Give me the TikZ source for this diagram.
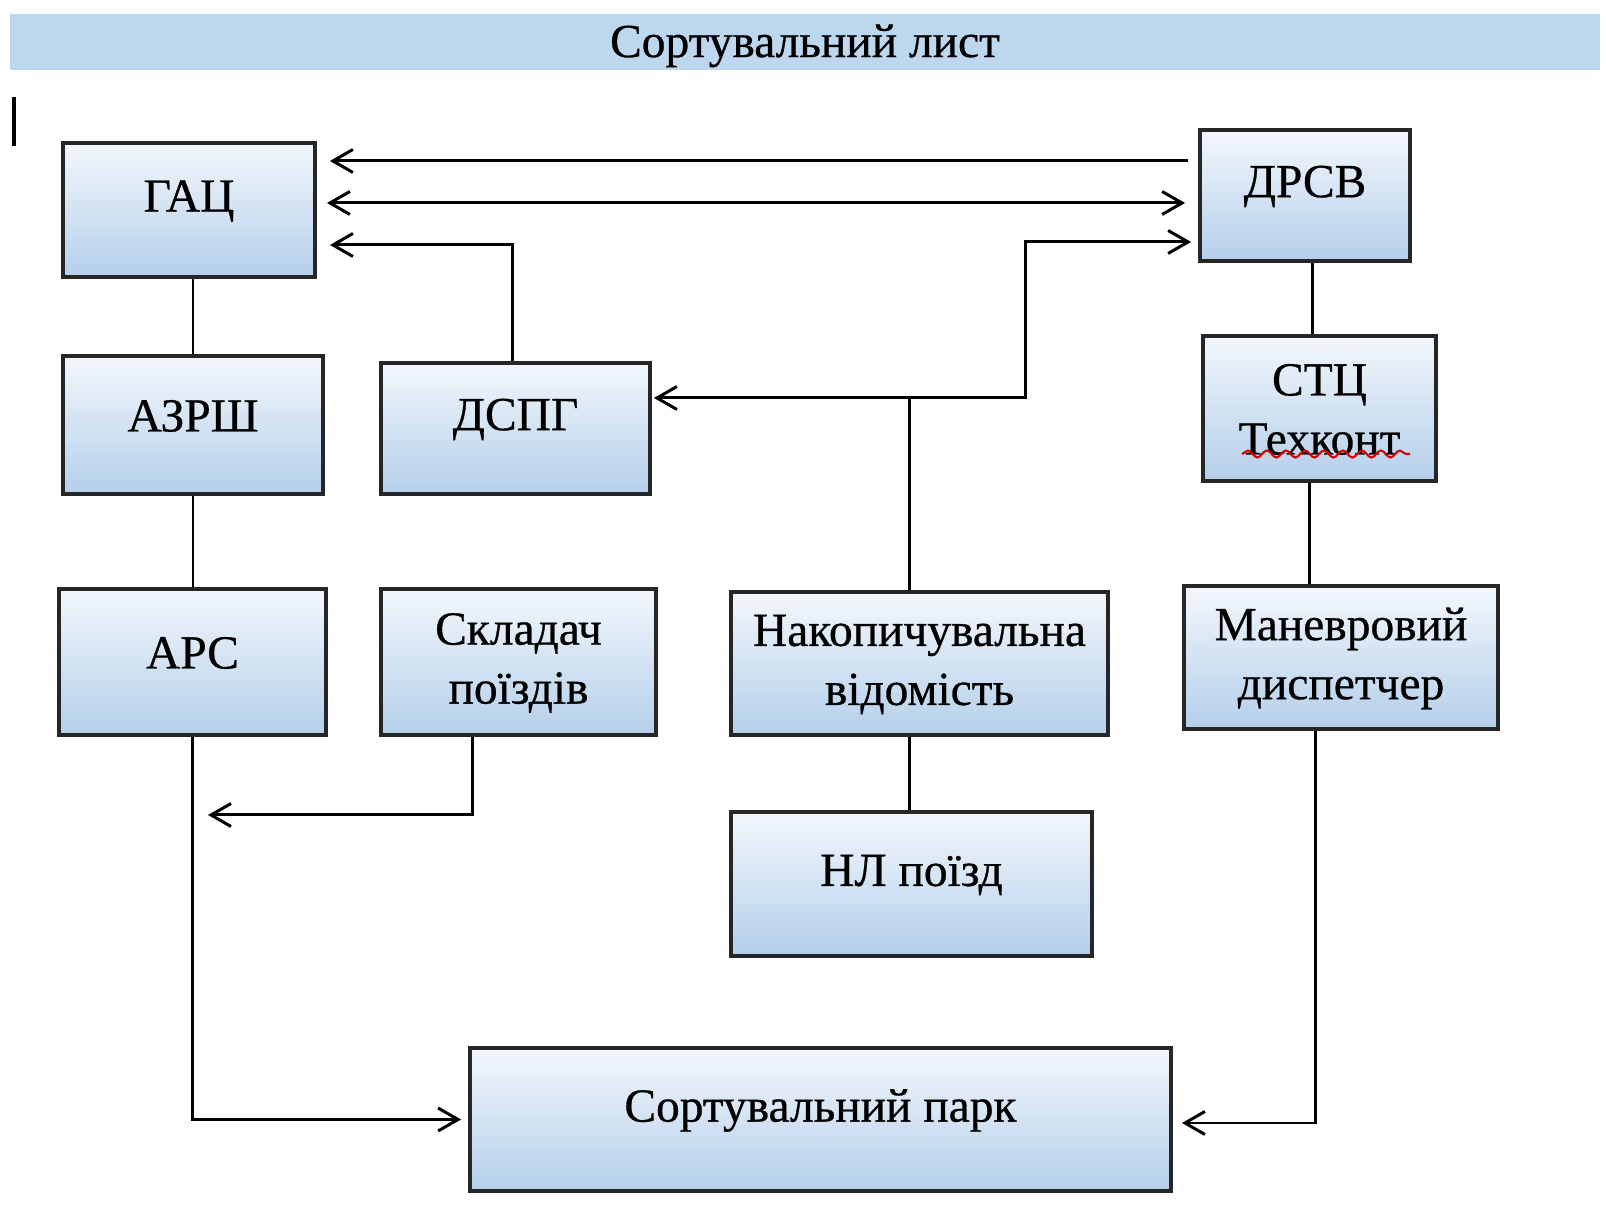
\documentclass[tikz,border=0pt]{standalone}
\usepackage{fontspec}
\setmainfont{Liberation Serif}[FakeBold=0.6]
\usepackage{tikz}
\usetikzlibrary{shapes,arrows,positioning,calc,decorations.pathmorphing,arrows.meta}

\definecolor{boxtop}{RGB}{243,247,252}
\definecolor{boxbot}{RGB}{180,207,234}
\definecolor{barblue}{RGB}{189,215,238}

\tikzset{
  blk/.style={draw=black!85, line width=1.1pt, top color=boxtop, bottom color=boxbot, inner sep=0pt},
  txt/.style={font=\fontsize{13.5}{16.8}\selectfont, align=center, yshift=0.9mm},
  txtii/.style={font=\fontsize{13.5}{16.8}\selectfont, align=center, yshift=-0.1mm},
  arr/.style={-{Straight Barb[length=2mm,width=2.3mm]}, line width=0.85pt, shorten >=1.2mm},
  dbl/.style={{Straight Barb[length=2mm,width=2.3mm]}-{Straight Barb[length=2mm,width=2.3mm]}, line width=0.85pt, shorten >=1mm, shorten <=1.3mm},
  conn/.style={line width=0.85pt}
}

\begin{document}
\begin{tikzpicture}
    \fill[white] (0,0) rectangle (16.06,12.16);
    \useasboundingbox (0,0) rectangle (16.06,12.16);

    % Title bar
    \node[fill=barblue, minimum width=15.9cm, minimum height=0.56cm, inner sep=0pt,
          label={[font=\fontsize{13.5}{16.8}\selectfont, yshift=-0.4mm]center:Сортувальний лист}] (title) at (8.05,11.74) {};
    \draw[line width=1pt] (0.14,11.19) -- (0.14,10.70);

    % Blocks
    \node[blk, minimum width=2.52cm, minimum height=1.34cm, label={[txt]center:ГАЦ}] (gac) at (1.89,10.06) {};
    \node[blk, minimum width=2.10cm, minimum height=1.31cm, label={[txt]center:ДРСВ}] (drsv) at (13.05,10.205) {};
    \node[blk, minimum width=2.60cm, minimum height=1.38cm, label={[txt]center:АЗРШ}] (azrsh) at (1.93,7.91) {};
    \node[blk, minimum width=2.69cm, minimum height=1.31cm, label={[txt]center:ДСПГ}] (dspg) at (5.155,7.875) {};
    \node[blk, minimum width=2.33cm, minimum height=1.45cm, label={[txtii]center:СТЦ\\Техконт}] (stc) at (13.195,8.075) {};
    \node[blk, minimum width=2.67cm, minimum height=1.46cm, label={[txt]center:АРС}] (ars) at (1.925,5.54) {};
    \node[blk, minimum width=2.75cm, minimum height=1.46cm, label={[txtii]center:Складач\\поїздів}] (skl) at (5.185,5.54) {};
    \node[blk, minimum width=3.77cm, minimum height=1.43cm, label={[txtii]center:Накопичувальна\\відомість}] (nak) at (9.195,5.525) {};
    \node[blk, minimum width=3.14cm, minimum height=1.43cm, label={[txtii]center:Маневровий\\диспетчер}] (man) at (13.41,5.585) {};
    \node[blk, minimum width=3.61cm, minimum height=1.44cm, label={[txt]center:НЛ поїзд}] (nl) at (9.115,3.32) {};
    \node[blk, minimum width=7.01cm, minimum height=1.43cm, label={[txt]center:Сортувальний парк}] (park) at (8.205,0.965) {};

    % spell-check underline
    \draw[red!85!black, line width=0.6pt, decorate, decoration={snake, amplitude=0.35mm, segment length=1.9mm}]
        (12.42,7.62) -- (14.10,7.62);

    % GAC - DRSV links
    \draw[arr, shorten <=1mm, shorten >=1.3mm] ([yshift=3.45mm]drsv.west) coordinate (t1) -- (gac.east |- t1);
    \draw[dbl] ([yshift=-0.75mm]drsv.west) coordinate (t2) -- (gac.east |- t2);
    \draw[arr, shorten >=1.3mm] ([xshift=-0.35mm]dspg.north) |- ([yshift=-3.5mm]gac.east);

    % Accumulation sheet branch
    \coordinate (jn) at (9.095,8.18);
    \coordinate (bend) at (10.25,9.74);
    \draw[conn] (jn |- nak.north) -- (jn);
    \draw[arr, shorten >=0.2mm] (jn) -- (dspg.east |- jn);
    \draw[arr, shorten >=0.7mm] (jn) -| (bend) -- (drsv.west |- bend);

    % Vertical chains
    \draw[conn] (azrsh.north) -- (azrsh.north |- gac.south);
    \draw[conn] (azrsh.south) -- (azrsh.south |- ars.north);
    \draw[conn] ([xshift=0.7mm]drsv.south) -- ([xshift=0.7mm]drsv.south |- stc.north);
    \draw[conn] ([xshift=-1mm]stc.south) -- ([xshift=-1mm]stc.south |- man.north);
    \draw[conn] (jn |- nak.south) -- (jn |- nl.north);

    % Into sorting yard
    \draw[arr, shorten >=0.7mm] (ars.south) |- (park.west);
    \draw[arr, shorten >=0.9mm] ([xshift=-2.6mm]man.south) |- ([yshift=-0.35mm]park.east);

    % Train composer to ARS
    \coordinate (ah) at (2.08,4.01);
    \draw[arr, shorten >=0mm] ([xshift=-4.65mm]skl.south) |- (ah);

\end{tikzpicture}
\end{document}
